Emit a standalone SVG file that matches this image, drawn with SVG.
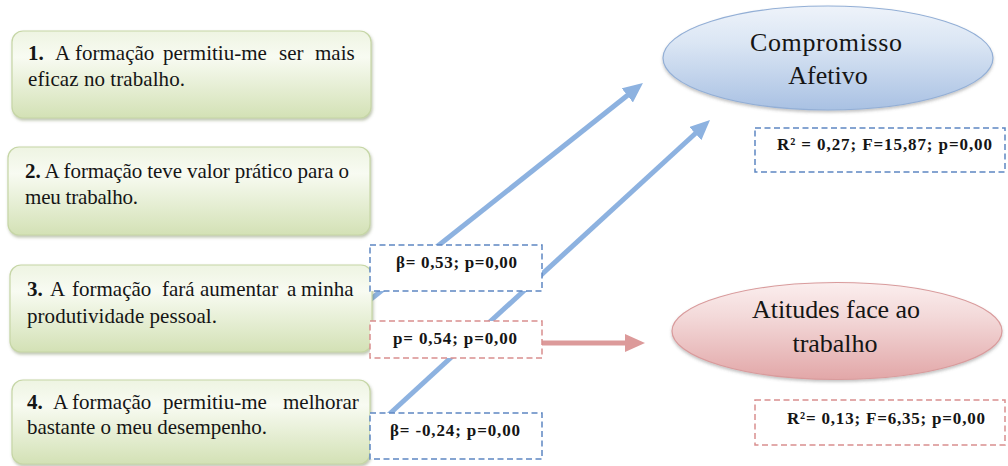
<svg xmlns="http://www.w3.org/2000/svg" width="1008" height="466" viewBox="0 0 1008 466" font-family="'Liberation Serif', serif">
<defs>
<linearGradient id="gGreen" x1="0" y1="0" x2="0" y2="1">
<stop offset="0" stop-color="#eef4e2"/>
<stop offset="0.3" stop-color="#f8fbf2"/>
<stop offset="1" stop-color="#d3e1b5"/>
</linearGradient>
<linearGradient id="gBlue" x1="0" y1="0" x2="0" y2="1">
<stop offset="0" stop-color="#eef3fa"/>
<stop offset="0.35" stop-color="#dbe6f4"/>
<stop offset="1" stop-color="#a9c1e3"/>
</linearGradient>
<linearGradient id="gRed" x1="0" y1="0" x2="0" y2="1">
<stop offset="0" stop-color="#fbeeee"/>
<stop offset="0.35" stop-color="#f3d9d9"/>
<stop offset="1" stop-color="#e2a7a8"/>
</linearGradient>
<filter id="shadow" x="-10%" y="-10%" width="120%" height="130%">
<feDropShadow dx="1" dy="2" stdDeviation="1.5" flood-color="#6f7f50" flood-opacity="0.45"/>
</filter>
<filter id="shadowE" x="-10%" y="-10%" width="120%" height="130%">
<feDropShadow dx="0" dy="2" stdDeviation="1.5" flood-color="#555" flood-opacity="0.35"/>
</filter>
<marker id="arrBlue" viewBox="0 -9 20 18" refX="6" refY="0" markerWidth="20" markerHeight="18" markerUnits="userSpaceOnUse" orient="auto">
<path d="M0,-9 L20,0 L0,9 z" fill="#8db2e0"/>
</marker>
<marker id="arrRed" viewBox="0 -9 20 18" refX="6" refY="0" markerWidth="20" markerHeight="18" markerUnits="userSpaceOnUse" orient="auto">
<path d="M0,-9 L20,0 L0,9 z" fill="#dc9a9a"/>
</marker>
</defs>
<style>
.box{fill:url(#gGreen);stroke:#c6d6a6;stroke-width:1.2;filter:url(#shadow)}
.t{font-size:21px;fill:#151515}
.b{font-weight:bold}
.et{font-size:26px;fill:#151515;text-anchor:middle}
.lb{font-size:17px;font-weight:bold;fill:#151515;text-anchor:middle}
.dashB{fill:#ffffff;stroke:#5d87c2;stroke-width:1.5;stroke-dasharray:6 3.5}
.dashR{fill:#ffffff;stroke:#d98f8f;stroke-width:1.5;stroke-dasharray:6 3.5}
.cb{stroke:#8db2e0;stroke-width:5;fill:none}
.cr{stroke:#dc9a9a;stroke-width:5;fill:none}
</style>
<rect width="1008" height="466" fill="#ffffff"/>

<g id="connectors">
<line class="cb" x1="366" y1="303" x2="632" y2="91.7" marker-end="url(#arrBlue)"/>
<line class="cb" x1="372" y1="430" x2="699.7" y2="129.5" marker-end="url(#arrBlue)"/>
<line class="cr" x1="542" y1="343" x2="631" y2="343" marker-end="url(#arrRed)"/>
</g>

<g id="item1">
<rect class="box" x="12" y="31" width="359" height="87" rx="11"/>
<text class="t" y="60" font-family="'Liberation Serif', serif"><tspan x="28" class="b">1.</tspan><tspan x="55">A</tspan><tspan x="75">formação</tspan><tspan x="163">permitiu-me</tspan><tspan x="279">ser</tspan><tspan x="315">mais</tspan></text>
<text class="t" x="28" y="86" font-family="'Liberation Serif', serif" textLength="157" lengthAdjust="spacing">eficaz no trabalho.</text>
</g>

<g id="item2">
<rect class="box" x="8" y="147" width="362" height="88" rx="11"/>
<text class="t" x="25" y="178" font-family="'Liberation Serif', serif" textLength="324" lengthAdjust="spacing"><tspan class="b">2.</tspan> A formação teve valor prático para o</text>
<text class="t" x="25" y="204" font-family="'Liberation Serif', serif" textLength="113" lengthAdjust="spacing">meu trabalho.</text>
</g>

<g id="item3">
<rect class="box" x="10" y="265" width="362" height="87" rx="11"/>
<text class="t" y="296" font-family="'Liberation Serif', serif"><tspan x="27" class="b">3.</tspan><tspan x="50">A</tspan><tspan x="72">formação</tspan><tspan x="162">fará</tspan><tspan x="200">aumentar</tspan><tspan x="287">a</tspan><tspan x="301">minha</tspan></text>
<text class="t" x="27" y="323" font-family="'Liberation Serif', serif" textLength="190" lengthAdjust="spacing">produtividade pessoal.</text>
</g>

<g id="item4">
<rect class="box" x="12" y="380" width="358" height="84" rx="11"/>
<text class="t" y="409" font-family="'Liberation Serif', serif"><tspan x="27" class="b">4.</tspan><tspan x="53">A</tspan><tspan x="72">formação</tspan><tspan x="163">permitiu-me</tspan><tspan x="283">melhorar</tspan></text>
<text class="t" x="27" y="434" font-family="'Liberation Serif', serif" textLength="240" lengthAdjust="spacing">bastante o meu desempenho.</text>
</g>

<g id="beta1">
<rect class="dashB" x="370" y="245" width="172" height="46"/>
<text class="lb" x="456.5" y="268" font-family="'Liberation Serif', serif" textLength="121" lengthAdjust="spacing">β= 0,53; p=0,00</text>
</g>

<g id="beta2">
<rect class="dashR" x="370" y="321" width="172" height="37"/>
<text class="lb" x="455" y="344" font-family="'Liberation Serif', serif" textLength="124" lengthAdjust="spacing">p= 0,54; p=0,00</text>
</g>

<g id="beta3">
<rect class="dashB" x="370" y="413" width="172" height="46"/>
<text class="lb" x="455" y="436" font-family="'Liberation Serif', serif" textLength="130" lengthAdjust="spacing">β= -0,24; p=0,00</text>
</g>

<g id="compromisso">
<ellipse cx="828" cy="58" rx="165" ry="52" fill="url(#gBlue)" stroke="#93afd6" stroke-width="1.2" filter="url(#shadowE)"/>
<text class="et" x="826" y="51" font-family="'Liberation Serif', serif" textLength="152" lengthAdjust="spacing">Compromisso</text>
<text class="et" x="828" y="84" font-family="'Liberation Serif', serif">Afetivo</text>
</g>

<g id="r2a">
<rect class="dashB" x="755" y="128" width="250" height="44"/>
<text class="lb" x="884.5" y="150" font-family="'Liberation Serif', serif" textLength="215" lengthAdjust="spacing">R² = 0,27; F=15,87; p=0,00</text>
</g>

<g id="atitudes">
<ellipse cx="837" cy="331" rx="165" ry="48.5" fill="url(#gRed)" stroke="#d99b9c" stroke-width="1.2" filter="url(#shadowE)"/>
<text class="et" x="836" y="318" font-family="'Liberation Serif', serif" textLength="168" lengthAdjust="spacing">Atitudes face ao</text>
<text class="et" x="835" y="352" font-family="'Liberation Serif', serif">trabalho</text>
</g>

<g id="r2b">
<rect class="dashR" x="755" y="400" width="250" height="45"/>
<text class="lb" x="886" y="424" font-family="'Liberation Serif', serif" textLength="198" lengthAdjust="spacing">R²= 0,13; F=6,35; p=0,00</text>
</g>
</svg>
